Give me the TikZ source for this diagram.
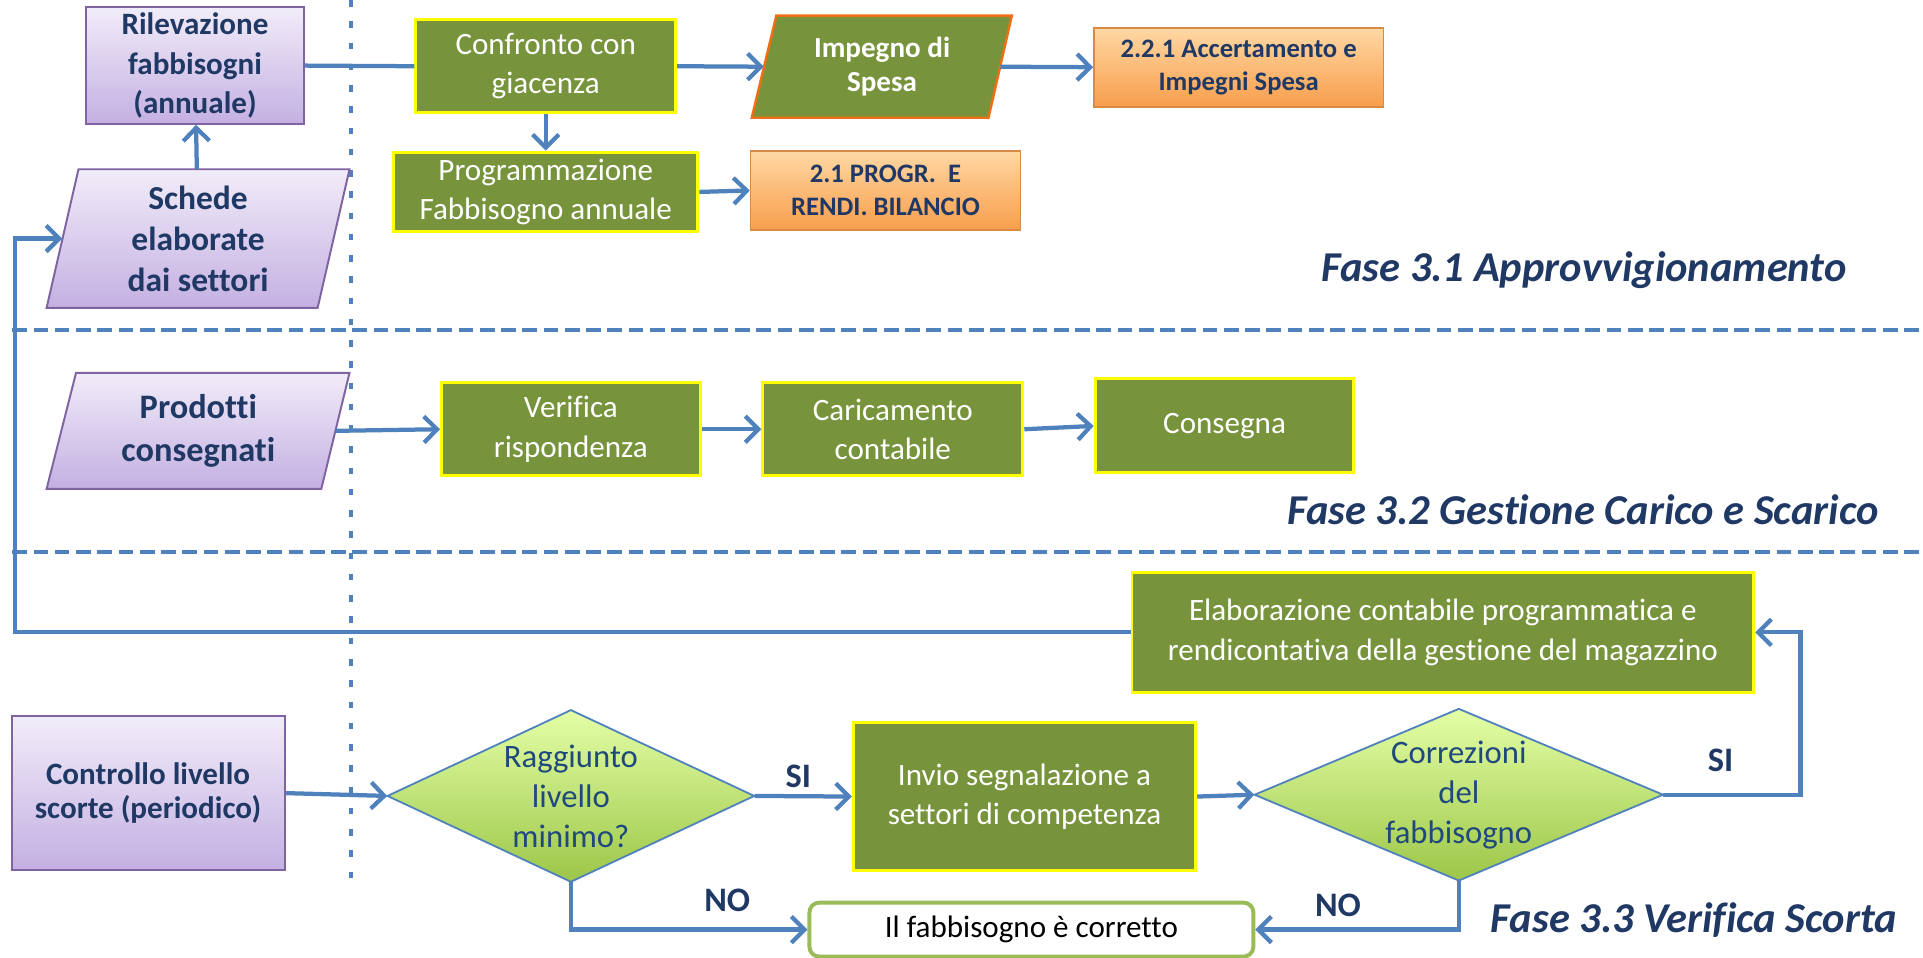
\documentclass[tikz,border=0pt]{standalone}
\usepackage{fontspec}
\setmainfont{Carlito}[Ligatures=NoCommon]
\usetikzlibrary{arrows.meta}

\definecolor{lineblue}{RGB}{79,129,189}
\definecolor{navytext}{RGB}{31,56,100}
\definecolor{diamtext}{RGB}{31,73,125}
\definecolor{olivefill}{RGB}{119,147,60}
\definecolor{boxyellow}{RGB}{255,255,0}
\definecolor{purpletop}{RGB}{241,236,249}
\definecolor{purplebot}{RGB}{196,176,226}
\definecolor{purpleline}{RGB}{128,100,162}
\definecolor{orangetop}{RGB}{255,216,164}
\definecolor{orangebot}{RGB}{248,158,76}
\definecolor{orangeline}{RGB}{214,140,70}
\definecolor{impegnoline}{RGB}{240,110,20}
\definecolor{limetop}{RGB}{228,255,166}
\definecolor{limebot}{RGB}{156,198,72}
\definecolor{okgreen}{RGB}{155,187,89}

\begin{document}
\begin{tikzpicture}[x=0.75pt,y=0.75pt,yscale=-1,xscale=1,
    greenbox/.style={fill=olivefill,draw=boxyellow,line width=1.8pt,text=white,align=center,inner sep=0pt,font=\fontsize{19}{24}\selectfont},
    purplebox/.style={draw=purpleline,line width=1.2pt,top color=purpletop,bottom color=purplebot,inner sep=0pt,align=center,text=navytext},
    purplepara/.style={draw=purpleline,line width=1.2pt,top color=purpletop,bottom color=purplebot},
    paratext/.style={inner sep=0pt,align=center,text=navytext},
    orangebox/.style={draw=orangeline,line width=1pt,top color=orangetop,bottom color=orangebot,inner sep=0pt,align=center,text=navytext,font=\bfseries\fontsize{16.3}{20}\selectfont},
    limediamond/.style={draw=lineblue,line width=1.1pt,top color=limetop,bottom color=limebot},
    diamtext/.style={inner sep=0pt,align=center,text=diamtext,font=\fontsize{20}{24.5}\selectfont},
    conn/.style={draw=lineblue,line width=2.6pt,-{Straight Barb[length=8pt,width=16pt]}},
    link/.style={draw=lineblue,line width=2.6pt},
    phase/.style={anchor=east,inner sep=0pt,text=navytext,font=\bfseries\itshape\fontsize{26}{30}\selectfont},
    yesno/.style={inner sep=0pt,text=navytext,font=\bfseries\fontsize{21}{25}\selectfont}
  ]
\useasboundingbox (0,0) rectangle (1568,781);

%Straight Lines (phase separators)
\draw [draw=lineblue,line width=2.2pt,dash pattern=on 4pt off 9pt]   (286,0) -- (286,718) ;
\draw [draw=lineblue,line width=2.6pt,dash pattern=on 9pt off 4pt]   (10,269) -- (1568,269) ;
\draw [draw=lineblue,line width=2.6pt,dash pattern=on 9pt off 4pt]   (10,450) -- (1568,450) ;

%Shape: Parallelogram
\draw [purplepara] (64,138) -- (285,138) -- (259,251) -- (38,251) -- cycle ;
%Shape: Parallelogram
\draw [purplepara] (62,304) -- (285,304) -- (262,398.6) -- (38,398.6) -- cycle ;
%Shape: Parallelogram
\draw [fill=olivefill,draw=impegnoline,line width=1.5pt] (633,12.8) -- (825,12.8) -- (806,96) -- (613,96) -- cycle ;
%Shape: Diamond
\draw [limediamond] (316,649) -- (465.5,579) -- (615,649) -- (465.5,719) -- cycle ;
%Shape: Diamond
\draw [limediamond] (1023,648) -- (1189.5,578) -- (1356,648) -- (1189.5,718) -- cycle ;

% Fase 3.1
\node (rilev) [purplebox,font=\bfseries\fontsize{19}{24}\selectfont,minimum width=133.5pt,minimum height=71.25pt] at (159,53.5) {Rilevazione\\fabbisogni\\(annuale)};
\node (schede) [paratext,font=\bfseries\fontsize{20.5}{25}\selectfont,minimum width=165.75pt,minimum height=84.75pt] at (161.5,194.5) {Schede\\elaborate\\dai settori};
\node (confronto) [greenbox,minimum width=159pt,minimum height=57pt] at (445,54) {Confronto con\\giacenza};
\node (programm) [greenbox,minimum width=186pt,minimum height=48.75pt] at (445,156.5) {Programmazione\\Fabbisogno annuale};
\node (impegno) [paratext,text=white,font=\bfseries\fontsize{17.8}{21}\selectfont,minimum width=144.4pt,minimum height=62.4pt] at (719.25,54.4) {Impegno di\\Spesa};
\node (acc221) [orangebox,minimum width=177pt,minimum height=48.3pt] at (1010,54.8) {2.2.1 Accertamento e\\Impegni Spesa};
\node (progr21) [orangebox,minimum width=165pt,minimum height=48.45pt] at (722,155.3) {2.1 PROGR.\ \ E\\RENDI. BILANCIO};
\node [phase] (fase31) at (1506,220) {Fase 3.1 Approvvigionamento};

% Fase 3.2
\node (prodotti) [paratext,font=\bfseries\fontsize{21}{26}\selectfont,minimum width=167.6pt,minimum height=70.95pt] at (161.75,351.3) {Prodotti\\consegnati};
\node (verifica) [greenbox,minimum width=158.25pt,minimum height=57pt] at (465.5,350) {Verifica\\rispondenza};
\node (caricam) [greenbox,minimum width=159pt,minimum height=57pt] at (728,350) {Caricamento\\contabile};
\node (consegna) [greenbox,minimum width=158.25pt,minimum height=57.45pt] at (998.5,347.3) {Consegna};
\node [phase] (fase32) at (1532,416) {Fase 3.2 Gestione Carico e Scarico};

% Fase 3.3
\node (elab) [greenbox,minimum width=380.25pt,minimum height=73.35pt] at (1176.5,515.6) {Elaborazione contabile programmatica e\\rendicontativa della gestione del magazzino};
\node (controllo) [purplebox,font=\bfseries\fontsize{19}{21}\selectfont,minimum width=166.95pt,minimum height=94.05pt] at (120.7,646.7) {Controllo livello\\scorte (periodico)};
\node (raggiunto) [diamtext,minimum width=224.25pt,minimum height=105pt] at (465.5,649) {Raggiunto\\livello\\minimo?};
\node (invio) [greenbox,minimum width=209.4pt,minimum height=90.75pt] at (835.4,649.5) {Invio segnalazione a\\settori di competenza};
\node (correz) [diamtext,minimum width=249.75pt,minimum height=105pt] at (1189.5,648) {Correzioni\\del\\fabbisogno};
\node (fabb) [draw=okgreen,line width=2.4pt,rounded corners=6pt,fill=white,inner sep=0pt,font=\fontsize{19}{23}\selectfont,minimum width=271.5pt,minimum height=33pt] at (841,758) {Il fabbisogno è corretto};
\node [phase] (fase33) at (1547,750) {Fase 3.3 Verifica Scorta};

\coordinate (feedL) at (12,194.5);
\coordinate (feedR) at (1468,515.6);

%Connectors
\draw [conn] (schede) -- (rilev);
\draw [link] (rilev.east) -- (confronto.west);
\draw [conn] (confronto.east) -- (impegno.west);
\draw [conn] (confronto.south) -- (programm.north);
\draw [conn] (impegno.east) -- (acc221.west);
\draw [conn] (programm.east) -- (progr21.west);
\draw [conn] (prodotti.east) -- (verifica.west);
\draw [conn] (verifica.east) -- (caricam.west);
\draw [conn] (caricam.east) -- (consegna.west);
\draw [conn] (controllo.east) -- (raggiunto.west);
\draw [conn] (raggiunto.east) -- (invio.west);
\draw [conn] (invio.east) -- (correz.west);
\draw [conn] (correz.east) -| (feedR) -- (elab.east);
\draw [conn] (elab.west) -| (feedL) -- (schede.west);
\draw [conn] (raggiunto.south) |- (fabb.west);
\draw [conn] (correz.south) |- (fabb.east);

% Text Node
\node [yesno] (si1) at (651,633) {SI};
\node [yesno] (si2) at (1403,620) {SI};
\node [yesno] (no1) at (593,734) {NO};
\node [yesno] (no2) at (1091,738) {NO};

\end{tikzpicture}
\end{document}
